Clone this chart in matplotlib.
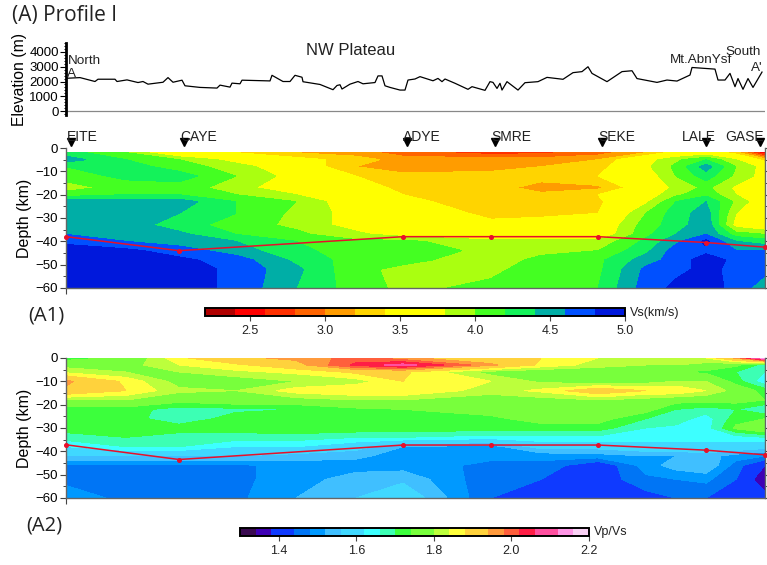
import numpy as np
import matplotlib
matplotlib.use('Agg')
import matplotlib.pyplot as plt
from matplotlib.ticker import MultipleLocator

plt.rcParams['font.family'] = ['Liberation Sans', 'DejaVu Sans']

W, H = 767, 565

# elevation profile, x is distance along the profile (px from left edge of the plot)
elev_x = [1, 14, 29, 32, 49, 51, 61, 72, 77, 82, 97, 102, 107, 116, 119, 134, 151, 154, 164,
          166, 174, 176, 204, 206, 217, 224, 229, 236, 237, 254, 267, 271, 274, 276, 284,
          292, 297, 309, 312, 316, 319, 324, 334, 339, 342, 349, 354, 367, 372, 376, 379,
          389, 402, 406, 419, 424, 427, 431, 434, 436, 441, 452, 459, 472, 481, 497, 507,
          516, 522, 526, 541, 556, 566, 571, 591, 601, 611, 624, 626, 649, 652, 659, 664,
          669, 672, 677, 682, 687, 696]
elev_m = [2220, 2265, 2000, 2155, 2155, 2000, 2110, 1930, 2000, 1820, 1950, 2265, 1950, 2090,
          1710, 1600, 1555, 1755, 1620, 1890, 1845, 2090, 2040, 2420, 2000, 2000, 2420, 2290,
          1985, 1800, 1445, 1730, 1780, 1490, 1820, 2000, 1845, 1930, 2380, 2380, 1710, 1600,
          1420, 1420, 2100, 2170, 2330, 2050, 2210, 1990, 2170, 1880, 1470, 1650, 1400, 1990,
          1940, 1530, 1880, 1420, 1990, 1420, 1920, 1990, 2280, 2150, 2600, 2670, 3000, 2550,
          1990, 2670, 2730, 2200, 1940, 2100, 2030, 2440, 2950, 2840, 2100, 2100, 2550, 1650,
          2200, 1470, 2200, 1600, 2640]

station_names = ['EITE', 'CAYE', 'ADYE', 'SMRE', 'SEKE', 'LALE', 'GASE']
station_x = [5, 118, 341, 429, 536, 640, 694]
station_label_x = [1, 114, 337, 425, 532, 616, 659]

grid_x = [0, 60, 113, 170, 230, 290, 337, 425, 475, 532, 580, 610, 640, 670, 699]

vs_depth = [-2, -5, -8, -12, -17, -20, -23, -28, -33, -37, -40, -44, -48, -52, -60]
# one row per grid_x column, top to bottom
vs_cols = [
    [4.3, 4.5, 4.2, 4.1, 3.9, 4.1, 4.5, 4.5, 4.5, 4.6, 4.75, 4.9, 4.9, 4.9, 4.9],
    [4.0, 4.2, 4.3, 4.25, 4.1, 4.2, 4.5, 4.5, 4.5, 4.5, 4.6, 4.85, 4.9, 4.9, 4.9],
    [3.5, 4.0, 4.1, 4.3, 4.1, 4.2, 4.5, 4.4, 4.3, 4.45, 4.5, 4.7, 4.85, 4.9, 4.9],
    [3.4, 3.7, 3.9, 4.0, 3.9, 4.0, 4.2, 4.2, 4.1, 4.2, 4.4, 4.5, 4.7, 4.75, 4.75],
    [3.2, 3.5, 3.6, 3.7, 3.6, 3.8, 4.0, 3.95, 3.95, 4.05, 4.2, 4.25, 4.35, 4.45, 4.4],
    [3.1, 3.3, 3.2, 3.4, 3.5, 3.5, 3.6, 3.7, 3.7, 3.85, 4.05, 4.1, 4.1, 4.05, 4.1],
    [2.9, 3.1, 3.0, 3.3, 3.35, 3.4, 3.45, 3.55, 3.6, 3.7, 4.05, 4.1, 4.05, 3.95, 3.95],
    [2.7, 3.1, 3.1, 3.3, 3.3, 3.3, 3.3, 3.35, 3.45, 3.6, 3.85, 3.95, 3.9, 3.95, 4.05],
    [2.75, 3.1, 3.2, 3.3, 3.1, 3.25, 3.3, 3.35, 3.5, 3.6, 3.85, 3.95, 4.05, 4.1, 4.1],
    [2.9, 3.2, 3.3, 3.4, 3.15, 3.4, 3.35, 3.4, 3.55, 3.6, 3.85, 4.0, 4.15, 4.15, 4.2],
    [3.2, 3.7, 3.75, 3.65, 3.6, 3.65, 3.75, 4.0, 4.1, 4.15, 4.25, 4.35, 4.5, 4.65, 4.7],
    [3.5, 3.95, 4.05, 4.0, 3.85, 3.95, 4.2, 4.3, 4.3, 4.4, 4.55, 4.7, 4.7, 4.75, 4.85],
    [3.6, 4.2, 4.5, 4.3, 4.05, 4.15, 4.4, 4.5, 4.55, 4.6, 4.85, 4.75, 4.9, 4.85, 4.95],
    [3.3, 3.8, 4.0, 3.95, 3.75, 3.8, 3.95, 3.8, 3.7, 4.1, 4.4, 4.6, 4.75, 4.75, 4.7],
    [2.4, 3.3, 3.7, 3.7, 3.7, 3.7, 3.6, 3.65, 3.55, 4.0, 4.3, 4.6, 4.7, 4.65, 4.5],
]
vs_levels = [2.2, 2.4, 2.6, 2.8, 3.0, 3.2, 3.4, 3.6, 3.8, 4.0, 4.2, 4.4, 4.6, 4.8, 5.0]
vs_colors = ['#b00000', '#ff0000', '#ff3000', '#ff6400', '#ff9c00', '#ffd400', '#ffff00',
             '#ffff00', '#aaff10', '#44ff22', '#14f25a', '#00aea6', '#0050ff', '#0018dc']
vs_ticks = [2.5, 3.0, 3.5, 4.0, 4.5, 5.0]

ratio_depth = [0, -3, -6, -10, -14, -18, -22, -26, -30, -34, -38, -42, -46, -52, -60]
ratio_cols = [
    [1.72, 1.78, 1.83, 1.95, 1.93, 1.80, 1.72, 1.72, 1.72, 1.68, 1.62, 1.56, 1.47, 1.47, 1.50],
    [1.75, 1.78, 1.80, 1.87, 1.88, 1.80, 1.72, 1.72, 1.73, 1.70, 1.66, 1.56, 1.47, 1.46, 1.47],
    [1.87, 1.84, 1.80, 1.78, 1.81, 1.76, 1.68, 1.67, 1.72, 1.68, 1.66, 1.56, 1.47, 1.46, 1.46],
    [1.93, 1.87, 1.83, 1.77, 1.80, 1.78, 1.69, 1.72, 1.72, 1.68, 1.62, 1.56, 1.47, 1.47, 1.47],
    [1.95, 1.92, 1.85, 1.80, 1.86, 1.78, 1.70, 1.73, 1.73, 1.68, 1.62, 1.54, 1.50, 1.50, 1.52],
    [2.00, 2.03, 1.89, 1.82, 1.88, 1.80, 1.73, 1.73, 1.73, 1.66, 1.58, 1.53, 1.50, 1.54, 1.56],
    [1.95, 2.08, 1.89, 1.88, 1.88, 1.80, 1.74, 1.73, 1.73, 1.66, 1.52, 1.50, 1.50, 1.55, 1.60],
    [1.90, 1.95, 1.78, 1.84, 1.82, 1.77, 1.76, 1.73, 1.72, 1.64, 1.50, 1.49, 1.47, 1.45, 1.44],
    [1.88, 1.87, 1.76, 1.79, 1.85, 1.78, 1.76, 1.76, 1.72, 1.65, 1.58, 1.49, 1.47, 1.44, 1.41],
    [1.84, 1.82, 1.76, 1.77, 1.92, 1.80, 1.77, 1.76, 1.72, 1.65, 1.58, 1.50, 1.40, 1.41, 1.40],
    [1.84, 1.80, 1.76, 1.78, 1.88, 1.78, 1.76, 1.70, 1.66, 1.64, 1.60, 1.52, 1.50, 1.47, 1.42],
    [1.84, 1.80, 1.74, 1.80, 1.88, 1.76, 1.70, 1.68, 1.65, 1.64, 1.60, 1.52, 1.54, 1.48, 1.44],
    [1.84, 1.78, 1.73, 1.80, 1.84, 1.76, 1.68, 1.64, 1.64, 1.64, 1.60, 1.54, 1.56, 1.49, 1.44],
    [1.95, 1.75, 1.70, 1.72, 1.78, 1.76, 1.70, 1.72, 1.75, 1.64, 1.60, 1.50, 1.46, 1.44, 1.40],
    [2.15, 1.68, 1.66, 1.63, 1.72, 1.74, 1.66, 1.74, 1.80, 1.66, 1.58, 1.48, 1.38, 1.34, 1.40],
]
ratio_levels = [1.30, 1.34, 1.38, 1.44, 1.48, 1.52, 1.56, 1.62, 1.66, 1.70, 1.74, 1.80, 1.84,
                1.88, 1.94, 1.98, 2.02, 2.06, 2.12, 2.16, 2.20]
ratio_colors = ['#3a0a50', '#3f00b5', '#0f3aff', '#0075f5', '#0099ff', '#40bfff', '#40d8ff',
                '#3dffff', '#3cffb4', '#3cff3c', '#78ff3c', '#bcff3c', '#ffff3c', '#ffd23c',
                '#ff9a3c', '#ff5f3c', '#ff1e46', '#ff50a0', '#ff96e6', '#fad2f5']
ratio_ticks = [1.4, 1.6, 1.8, 2.0, 2.2]

moho_x = [0, 113, 337, 425, 532, 640, 699]
moho_vs = [-38, -44, -38, -38, -38, -40.5, -42.5]
moho_ratio = [-37.2, -43.5, -37.3, -37.3, -37.3, -39.5, -41.5]


def px_axes(fig, left, top, right, bottom):
    return fig.add_axes([left / W, 1 - bottom / H, (right - left) / W, (bottom - top) / H])


def depth_panel(fig, top, depth, cols, levels, colors, moho):
    ax = px_axes(fig, 66, top, 765, top + 140)
    cs = ax.contourf(grid_x, depth, np.array(cols).T, levels=levels, colors=colors)
    ax.plot(moho_x, moho, color='#e8102a', lw=1.1, marker='o', ms=2.6, clip_on=False, zorder=5)
    ax.set_xlim(0, 699)
    ax.set_ylim(-60, 0)
    ax.set_ylabel('Depth (km)', fontsize=11.5, labelpad=2)
    ax.set_xticks([0])
    ax.set_xticklabels([''])
    ax.yaxis.set_major_locator(MultipleLocator(10))
    ax.yaxis.set_minor_locator(MultipleLocator(5))
    ax.tick_params(axis='y', which='both', right=True, color='#444444', labelsize=9.5, pad=2)
    ax.tick_params(axis='y', which='major', length=4, width=0.8)
    ax.tick_params(axis='y', which='minor', length=2, width=0.7)
    ax.tick_params(axis='x', length=4, width=0.8, color='#444444')
    ax.spines['top'].set_visible(False)
    for side in ['left', 'right', 'bottom']:
        ax.spines[side].set_color('#666666')
        ax.spines[side].set_linewidth(1)
    return ax, cs


def colorbar_row(fig, cs, box, ticks, label, label_x, label_y):
    cax = px_axes(fig, *box)
    cb = fig.colorbar(cs, cax=cax, orientation='horizontal', spacing='proportional', ticks=ticks)
    cb.ax.tick_params(labelsize=9, length=3.5, width=0.8, pad=3, color='#444444', labelcolor='#222222')
    cb.ax.minorticks_off()
    cb.outline.set_linewidth(1.4)
    cb.outline.set_edgecolor('black')
    fig.text(label_x / W, 1 - label_y / H, label, fontsize=9, va='center', color='#222222')


fig = plt.figure(figsize=(W / 100, H / 100), dpi=100)

# elevation strip
ax_el = px_axes(fig, 66, 43, 765, 115)
ax_el.plot(elev_x, elev_m, color='black', lw=0.9)
ax_el.axhline(0, color='#888888', lw=0.9)
ax_el.set_xlim(0, 699)
ax_el.set_ylim(-270, 4610)
ax_el.set_xticks([])
ax_el.set_yticks([0, 1000, 2000, 3000, 4000])
ax_el.yaxis.set_minor_locator(MultipleLocator(200))
ax_el.tick_params(axis='y', which='major', labelsize=9.5, length=4, width=0.8, pad=1)
ax_el.tick_params(axis='y', which='minor', length=1.5, width=0.7)
ax_el.set_ylabel('Elevation (m)', fontsize=11.3, labelpad=2)
for side in ['top', 'right', 'bottom']:
    ax_el.spines[side].set_visible(False)
ax_el.spines['left'].set_linewidth(2)
ax_el.patch.set_alpha(0)

ax_el.text(240, 4100, 'NW Plateau', fontsize=12, va='center', color='#222222')
ax_el.text(2, 3400, 'North', fontsize=9.7, va='center', color='#222222')
ax_el.text(1, 2500, 'A', fontsize=9.7, va='center', color='#222222')
ax_el.text(604, 3460, 'Mt.AbnYsf', fontsize=9.7, va='center', color='#222222')
ax_el.text(659, 4020, 'South', fontsize=9.7, va='center', color='#222222')
ax_el.text(685, 2900, "A'", fontsize=9.7, va='center', color='#222222')

ax_vs, cs_vs = depth_panel(fig, 148, vs_depth, vs_cols, vs_levels, vs_colors, moho_vs)
ax_ratio, cs_ratio = depth_panel(fig, 358, ratio_depth, ratio_cols, ratio_levels, ratio_colors, moho_ratio)

# stations above the Vs panel
ax_vs.plot(station_x, [2.6] * len(station_x), linestyle='none', marker='v', color='black', ms=5.5, clip_on=False)
for name, lx in zip(station_names, station_label_x):
    ax_vs.text(lx, 4.7, name, fontsize=10, va='center', color='#222222', clip_on=False)

colorbar_row(fig, cs_vs, (205, 308, 625, 316), vs_ticks, 'Vs(km/s)', 630, 313)
colorbar_row(fig, cs_ratio, (240, 528, 589, 536), ratio_ticks, 'Vp/Vs', 594, 532)

fig.text(12 / W, 1 - 15 / H, '(A) Profile I', family='Open Sans', fontsize=15, va='center', color='#222222')
fig.text(28 / W, 1 - 316 / H, '(A1)', family='Open Sans', fontsize=14.5, va='center', color='#222222')
fig.text(26 / W, 1 - 525 / H, '(A2)', family='Open Sans', fontsize=14.5, va='center', color='#222222')

fig.savefig('out.png', dpi=100)
